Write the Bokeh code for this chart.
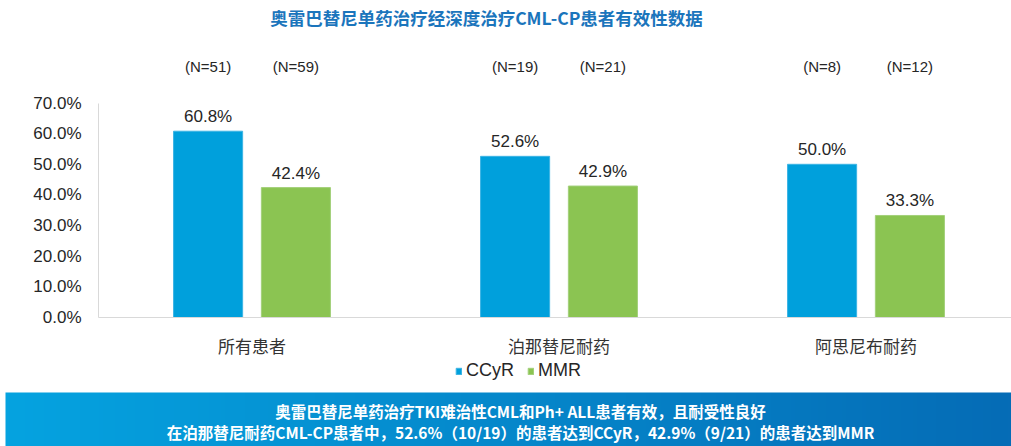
import numpy as np
from bokeh.plotting import figure
from bokeh.models import (ColumnDataSource, Range1d, FixedTicker, PrintfTickFormatter,
                          Legend, LegendItem)
from bokeh.transform import dodge
from bokeh.core.properties import value
from bokeh.embed import file_html
from bokeh.resources import INLINE

# ---- data ----
categories = ["所有患者", "泊那替尼耐药", "阿思尼布耐药"]
ccyr = [60.8, 52.6, 50.0]
mmr = [42.4, 42.9, 33.3]
n_ccyr = [51, 19, 8]
n_mmr = [59, 21, 12]
y_ticks = [0, 10, 20, 30, 40, 50, 60, 70]
title_text = "奥雷巴替尼单药治疗经深度治疗CML-CP患者有效性数据"
banner_line1 = "奥雷巴替尼单药治疗TKI难治性CML和Ph+ ALL患者有效，且耐受性良好"
banner_line2 = "在泊那替尼耐药CML-CP患者中，52.6%（10/19）的患者达到CCyR，42.9%（9/21）的患者达到MMR"

BLUE = "#00a0dc"
GREEN = "#8bc452"
TXT = "#262626"
CJK = "Noto Sans CJK SC"
LAT = "Liberation Sans"

xs = list(range(len(categories)))
src = ColumnDataSource(dict(
    x=xs, ccyr=ccyr, mmr=mmr,
    ccyr_lbl=[f"{v:.1f}%" for v in ccyr],
    mmr_lbl=[f"{v:.1f}%" for v in mmr],
    n_ccyr_lbl=[f"(N={n})" for n in n_ccyr],
    n_mmr_lbl=[f"(N={n})" for n in n_mmr],
    n_y=[81.9] * len(categories),
))

W = 1011
H = 446
# layout geometry (pixels): plot area left edge 98, zero line at 317
PX_X = 307.0   # pixels per category
PX_Y = 3.064   # pixels per percent
X0, Y0 = 98, 317
x_start = -0.5 - X0 / PX_X
x_end = -0.5 + (W - X0) / PX_X
y_end = Y0 / PX_Y
y_start = -(H - Y0) / PX_Y

p = figure(width=W, height=H, output_backend="svg", toolbar_location=None,
           x_range=Range1d(x_start, x_end), y_range=Range1d(y_start, y_end),
           min_border=0)
p.outline_line_color = None
p.xgrid.grid_line_color = None
p.ygrid.grid_line_color = None
p.background_fill_color = "white"
p.border_fill_color = "white"

# ---- bottom banner (gradient) ----
c0 = np.array([5, 163, 224], dtype=float)
c1 = np.array([6, 108, 182], dtype=float)
t = np.linspace(0, 1, 256)[:, None]
cols = (c0 * (1 - t) + c1 * t).astype(np.uint8)
img = np.zeros((2, 256), dtype=np.uint32)
view = img.view(dtype=np.uint8).reshape((2, 256, 4))
for row in range(2):
    view[row, :, 0] = cols[:, 0]
    view[row, :, 1] = cols[:, 1]
    view[row, :, 2] = cols[:, 2]
    view[row, :, 3] = 255
ban_x0 = x_start + 5 / PX_X
ban_top = -(392 - Y0) / PX_Y
p.image_rgba(image=[img], x=ban_x0, y=y_start, dw=x_end - ban_x0,
             dh=ban_top - y_start)
ban_cx = x_start + 520 / PX_X
p.text(x=[ban_cx, ban_cx],
       y=[-(410 - Y0) / PX_Y, -(431 - Y0) / PX_Y],
       text=[banner_line1, banner_line2],
       text_align="center", text_baseline="middle", text_font=value(CJK),
       text_font_size="15.5px", text_font_style="bold", text_color="white")

# ---- bars ----
OFF = 0.143
BW = 0.225
r1 = p.vbar(x=dodge("x", -OFF), top="ccyr", width=BW, source=src,
            fill_color=BLUE, line_color="#3cb4e4", line_width=1)
r2 = p.vbar(x=dodge("x", OFF), top="mmr", width=BW, source=src,
            fill_color=GREEN, line_color="#a3d07a", line_width=1)

p.text(x=dodge("x", -OFF), y="ccyr", text="ccyr_lbl", source=src,
       text_align="center", text_baseline="bottom", y_offset=-5,
       text_font=value(LAT), text_font_size="17px", text_color=TXT)
p.text(x=dodge("x", OFF), y="mmr", text="mmr_lbl", source=src,
       text_align="center", text_baseline="bottom", y_offset=-5,
       text_font=value(LAT), text_font_size="17px", text_color=TXT)

p.text(x=dodge("x", -OFF), y="n_y", text="n_ccyr_lbl", source=src,
       text_align="center", text_baseline="middle",
       text_font=value(LAT), text_font_size="15px", text_color=TXT)
p.text(x=dodge("x", OFF), y="n_y", text="n_mmr_lbl", source=src,
       text_align="center", text_baseline="middle",
       text_font=value(LAT), text_font_size="15px", text_color=TXT)

# title
p.text(x=[x_start + 486 / PX_X], y=[(Y0 - 17) / PX_Y], text=[title_text],
       text_align="center", text_baseline="middle", text_font=value(CJK),
       text_font_size="17.5px", text_font_style="bold", text_color="#1b75bc")

# ---- axes ----
p.yaxis.fixed_location = -0.5
p.yaxis.ticker = FixedTicker(ticks=y_ticks)
p.yaxis.formatter = PrintfTickFormatter(format="%.1f%%")
p.yaxis.bounds = (0, 70)
p.yaxis.axis_line_color = "#d9d9d9"
p.yaxis.major_tick_line_color = None
p.yaxis.minor_tick_line_color = None
p.yaxis.major_label_standoff = 11
p.yaxis.major_label_text_font = LAT
p.yaxis.major_label_text_font_size = "17px"
p.yaxis.major_label_text_color = TXT

p.xaxis.fixed_location = 0
p.xaxis.ticker = FixedTicker(ticks=xs)
p.xaxis.major_label_overrides = {i: c for i, c in enumerate(categories)}
p.xaxis.bounds = (-0.5, x_end)
p.xaxis.axis_line_color = "#d9d9d9"
p.xaxis.major_tick_line_color = None
p.xaxis.minor_tick_line_color = None
p.xaxis.major_label_standoff = 9
p.xaxis.major_label_text_font = CJK
p.xaxis.major_label_text_font_size = "17px"
p.xaxis.major_label_text_color = "#333333"

legend = Legend(items=[LegendItem(label="CCyR", renderers=[r1]),
                       LegendItem(label="MMR", renderers=[r2])],
                orientation="horizontal", location=(455, 65),
                glyph_width=7, glyph_height=8, label_standoff=4, spacing=13,
                label_height=20, padding=0, margin=0, border_line_color=None,
                background_fill_alpha=0,
                label_text_font=LAT, label_text_font_size="18px",
                label_text_color=TXT)
p.add_layout(legend)

open("out.html", "w").write(file_html(p, INLINE))
